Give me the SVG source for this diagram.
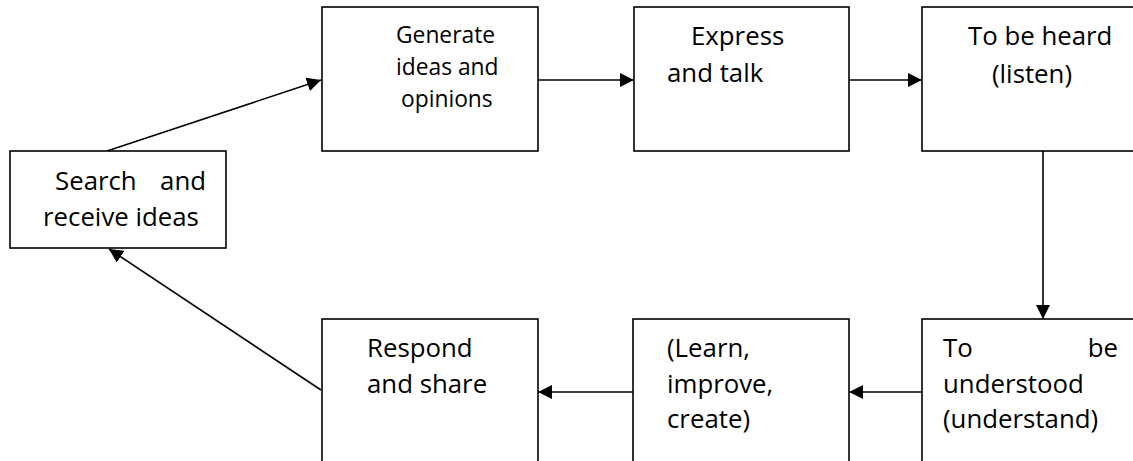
<svg xmlns="http://www.w3.org/2000/svg" width="1133" height="461" viewBox="0 0 1133 461">
<style>
.box{fill:#fff;stroke:#000;stroke-width:1.6}
.t{font-family:"Open Sans","Noto Sans",sans-serif;font-size:25.8px;fill:#000}
.s{font-size:22.8px}
.c{stroke:#000;stroke-width:1.6;fill:none}
</style>
<defs>
<marker id="ah" viewBox="0 0 10 10" refX="10" refY="5" markerWidth="14" markerHeight="14" markerUnits="userSpaceOnUse" orient="auto">
<path d="M0,0 L10,5 L0,10 z" fill="#000"/>
</marker>
</defs>
<rect width="1133" height="461" fill="#fff"/>
<g id="connectors">
<line class="c" x1="107" y1="151" x2="321" y2="80" marker-end="url(#ah)"/>
<line class="c" x1="538" y1="80" x2="634" y2="80" marker-end="url(#ah)"/>
<line class="c" x1="849" y1="80" x2="922" y2="80" marker-end="url(#ah)"/>
<line class="c" x1="1043" y1="151" x2="1043" y2="319" marker-end="url(#ah)"/>
<line class="c" x1="922" y1="392" x2="849" y2="392" marker-end="url(#ah)"/>
<line class="c" x1="633" y1="392" x2="538" y2="392" marker-end="url(#ah)"/>
<line class="c" x1="321" y1="390" x2="109" y2="249" marker-end="url(#ah)"/>
</g>
<g id="search">
<rect class="box" x="10" y="151" width="216" height="97"/>
<text class="t" x="55" y="190">Search</text>
<text class="t" x="206" y="190" text-anchor="end">and</text>
<text class="t" x="43" y="226">receive ideas</text>
</g>
<g id="generate">
<rect class="box" x="322" y="7" width="216" height="144"/>
<text class="t s" x="396" y="43">Generate</text>
<text class="t s" x="396" y="75">ideas and</text>
<text class="t s" x="401" y="107">opinions</text>
</g>
<g id="express">
<rect class="box" x="634" y="7" width="215" height="144"/>
<text class="t" x="691" y="45">Express</text>
<text class="t" x="667" y="82">and talk</text>
</g>
<g id="heard">
<rect class="box" x="922" y="7" width="220" height="144"/>
<text class="t" x="968" y="45">To be heard</text>
<text class="t" x="992" y="83">(listen)</text>
</g>
<g id="understood">
<rect class="box" x="922" y="319" width="220" height="150"/>
<text class="t" x="943" y="357">To</text>
<text class="t" x="1118" y="357" text-anchor="end">be</text>
<text class="t" x="943" y="393">understood</text>
<text class="t" x="943" y="428">(understand)</text>
</g>
<g id="learn">
<rect class="box" x="633" y="319" width="216" height="150"/>
<text class="t" x="667" y="357">(Learn,</text>
<text class="t" x="667" y="393">improve,</text>
<text class="t" x="667" y="428">create)</text>
</g>
<g id="respond">
<rect class="box" x="322" y="319" width="216" height="150"/>
<text class="t" x="367" y="357">Respond</text>
<text class="t" x="367" y="393">and share</text>
</g>
</svg>
